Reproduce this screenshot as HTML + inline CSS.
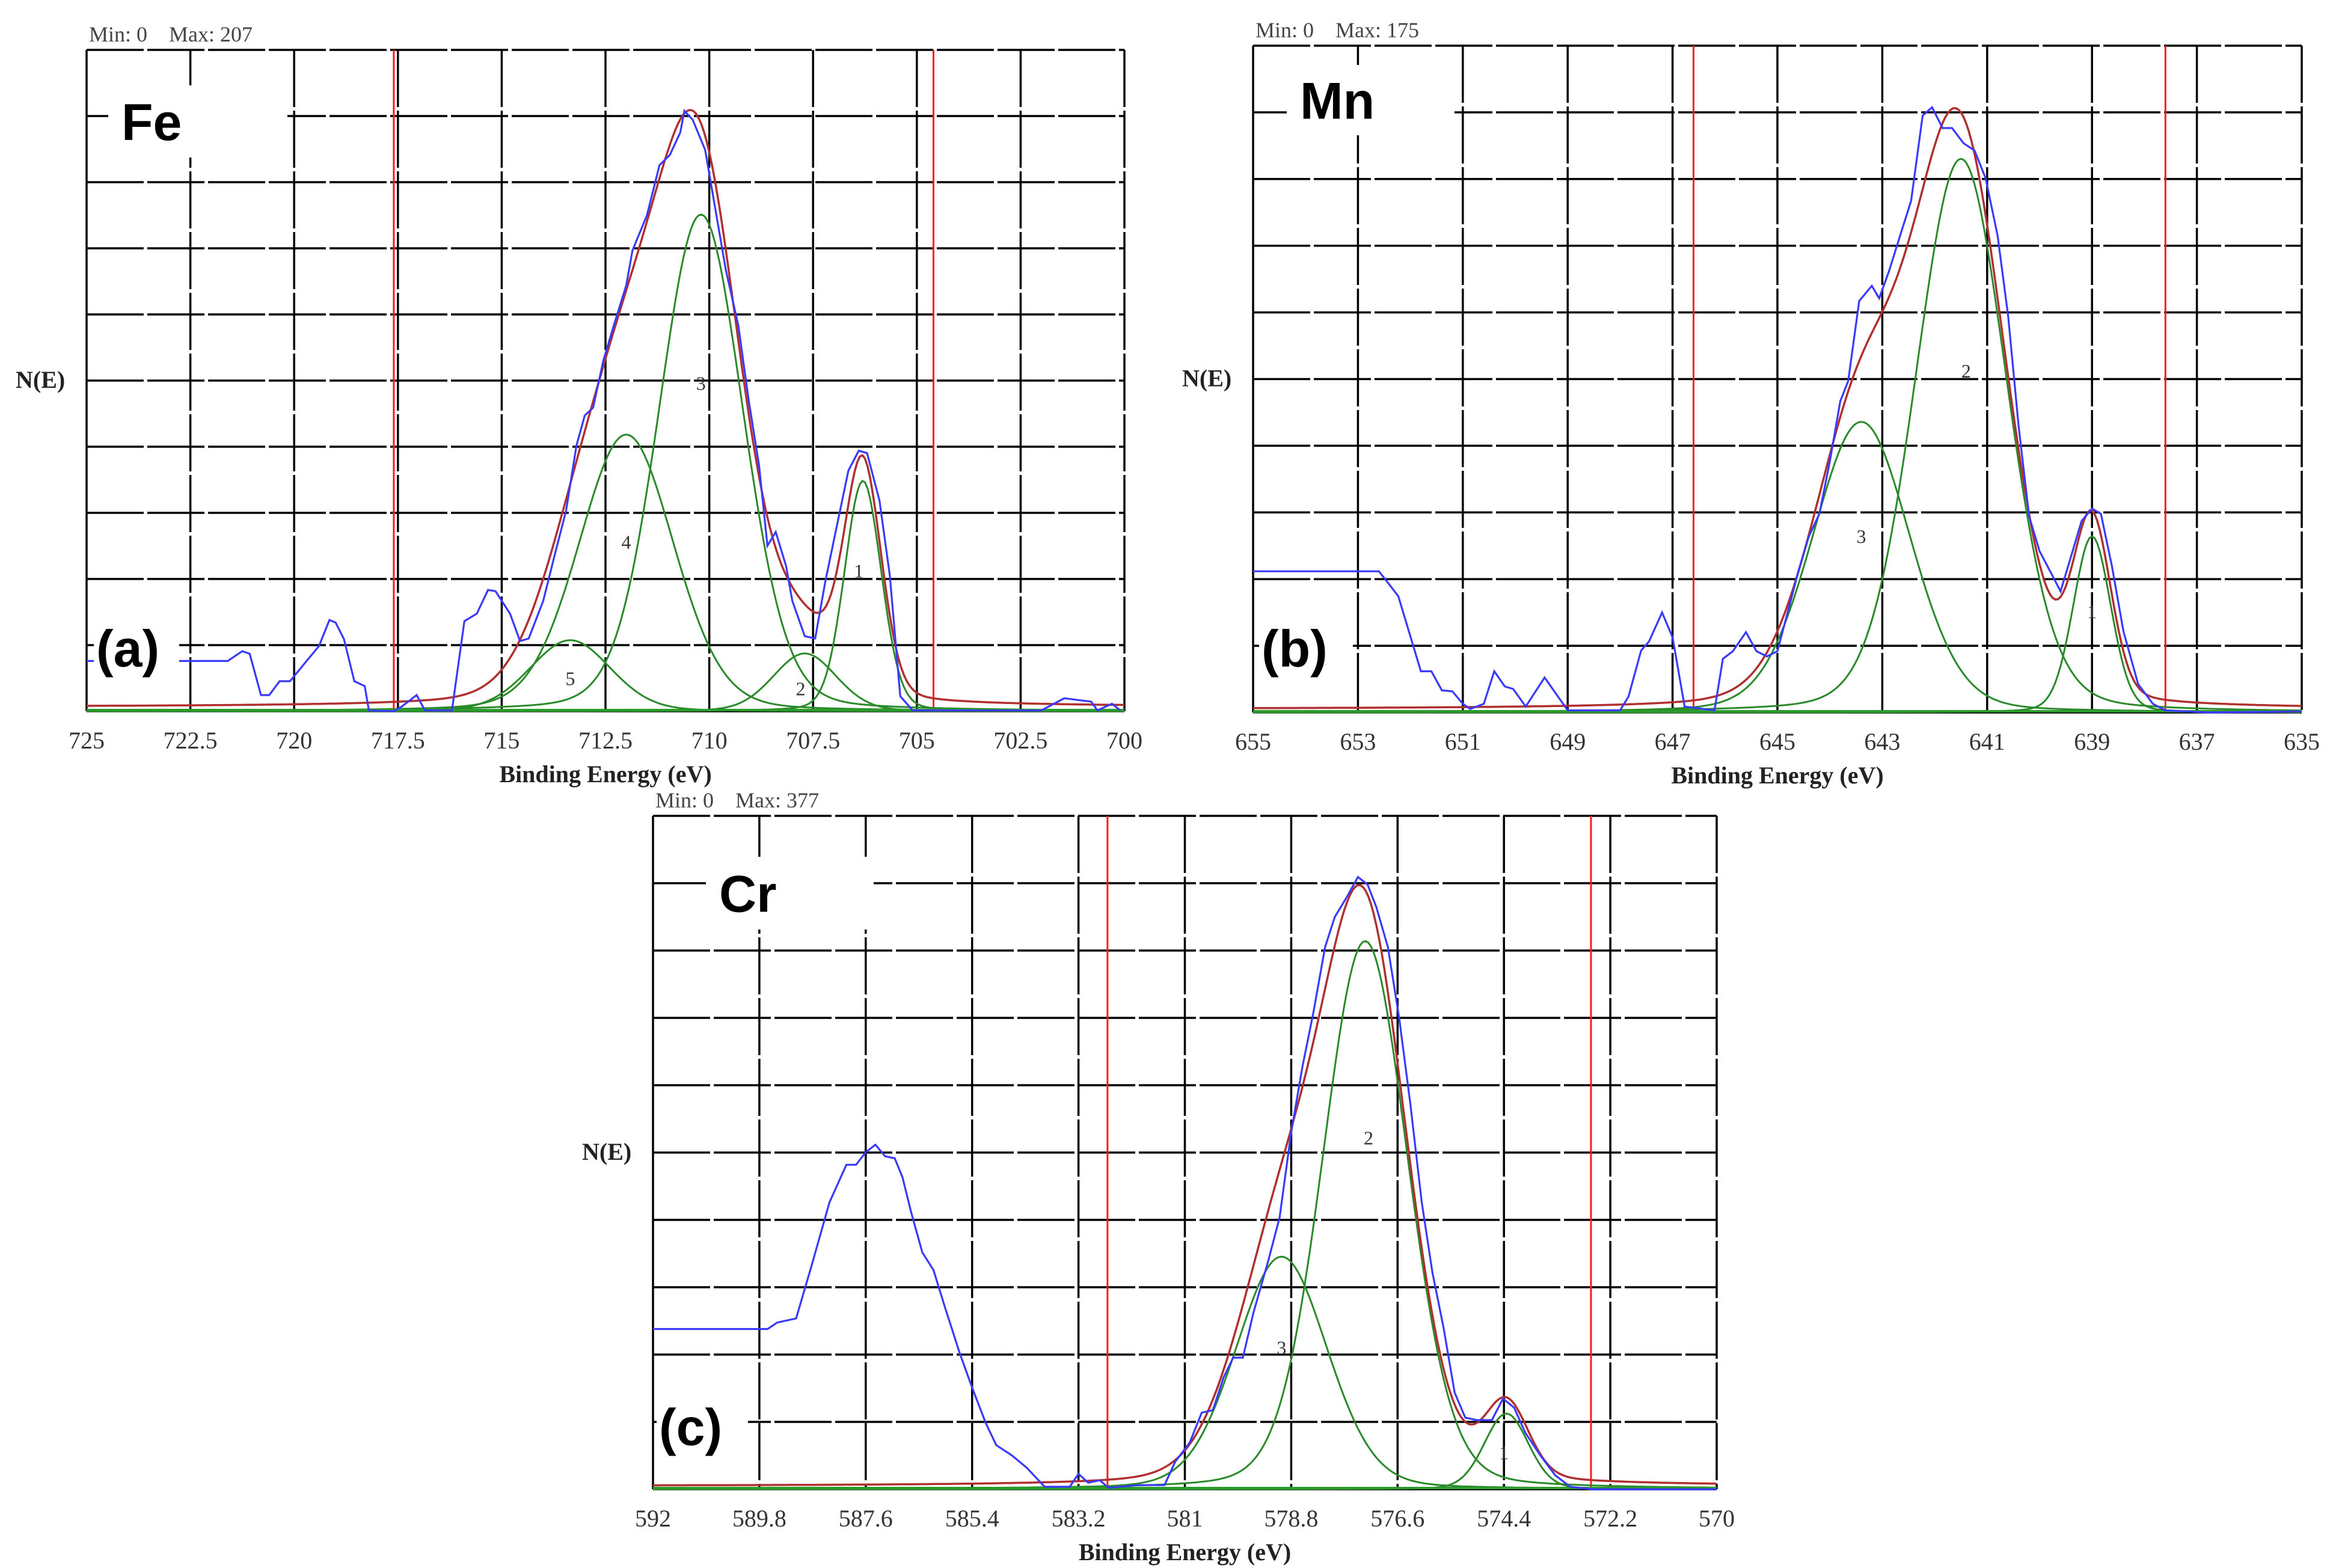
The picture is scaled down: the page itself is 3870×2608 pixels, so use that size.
<!DOCTYPE html>
<html><head><meta charset="utf-8"><title>XPS spectra Fe Mn Cr</title>
<style>
html,body{margin:0;padding:0;background:#fff;}
svg{display:block;}
.tick{font-family:"Liberation Serif",serif;font-size:40px;fill:#333;}
.axt{font-family:"Liberation Serif",serif;font-size:40px;font-weight:bold;fill:#222;}
.mm{font-family:"Liberation Serif",serif;font-size:36px;fill:#444;}
.el{font-family:"Liberation Sans",sans-serif;font-size:86px;font-weight:bold;fill:#000;}
.num{font-family:"Liberation Serif",serif;font-size:32px;fill:#333;}
</style></head>
<body>
<svg id="fig" width="3870" height="2608" viewBox="0 0 3870 2608" xmlns="http://www.w3.org/2000/svg">
<rect x="0" y="0" width="3870" height="2608" fill="#fff"/>
</svg>
<script>
// ---------- Fe panel data ----------
const feE = [725,721.6,721.25,721.07,720.8,720.6,720.35,720.1,719.7,719.4,719.15,719.0,718.8,718.55,718.3,718.2,717.6,717.4,717.05,716.85,716.2,715.9,715.6,715.33,715.15,714.8,714.56,714.35,714.0,713.7,713.45,713.2,713.0,712.8,712.55,712.3,712.0,711.85,711.5,711.2,710.95,710.7,710.6,710.4,710.1,709.85,709.6,709.3,709.05,708.8,708.6,708.4,708.15,708.0,707.7,707.45,707.2,706.9,706.65,706.4,706.2,705.9,705.65,705.4,705.1,702.0,701.45,700.8,700.65,700.3,700.1];
const feCounts = [17.4,17.4,20.8,19.9,5.6,5.6,10.4,10.4,17.4,22.6,31.6,30.7,25.0,10.4,8.7,0.3,0,1.7,5.6,0.3,0.3,31.2,33.8,42.0,41.6,33.8,24.3,25.2,38.2,55.5,69.4,92.0,102.4,105.1,121.5,133.6,147.5,159.6,171.8,189.1,192.6,200.4,207.9,204.8,194.4,173.5,152.7,133.6,107.6,85.1,57.3,62.1,50.3,38.2,26.0,25.2,45.3,66.0,83.3,90.2,89.4,72.9,46.9,5.2,0.3,0.3,4.5,3.3,0.3,2.6,0.3];
const feCompCenter = [706.3,707.7,710.2,712.0,713.35];
const feCompHeight = [79.8,20.0,172,95.8,24.6];
const feCompFwhm = [1.05,1.8,2.4,2.7,2.3];
const feCompLabel = ['1','2','3','4','5'];
const feLabelE = [706.4,707.8,710.2,712.0,713.35];
const feLabelY = [48.6,7.8,113.6,58.6,11.3];
const feTicks = ['725','722.5','720','717.5','715','712.5','710','707.5','705','702.5','700'];
const feMarkers = [717.6,704.6];
// ---------- Mn panel data ----------
const mnE = [655,652.6,652.45,652.23,652.0,651.8,651.6,651.4,651.2,651.0,650.86,650.6,650.4,650.2,650.04,649.8,649.44,649.0,648.0,647.84,647.6,647.45,647.2,647.0,646.77,646.2,646.04,645.85,645.6,645.4,645.2,645.0,644.8,644.6,644.4,644.2,644.0,643.8,643.65,643.44,643.2,643.06,642.87,642.66,642.45,642.23,642.05,641.85,641.67,641.45,641.24,641.03,640.8,640.6,640.4,640.2,640.0,639.75,639.6,639.37,639.2,639.0,638.83,638.62,638.4,638.12,637.84,637.6,636.8,635];
const mnCounts = [40.8,40.8,37.9,33.6,22.0,11.9,11.9,6.4,6.1,2.5,1.0,2.5,11.9,7.5,6.8,1.7,10.1,0.6,0.6,4.6,17.9,20.5,28.9,21.7,1.7,0.6,15.5,17.7,23.2,17.7,16.2,17.7,29.2,40.8,50.9,57.4,72.6,90.0,95.8,118.9,123.3,119.7,127.6,137.8,147.9,172.5,174.9,168.9,168.9,164.5,162.4,154.4,137.8,114.6,82.8,56.7,46.6,39.4,35.0,46.6,55.3,58.9,57.4,42.3,23.4,8.2,2.5,0.6,0,0.3];
const mnCompCenter = [639.0,641.5,643.4];
const mnCompHeight = [50.9,160,84];
const mnCompFwhm = [0.85,2.05,2.2];
const mnCompLabel = ['1','2','3'];
const mnLabelE = [639.0,641.4,643.4];
const mnLabelY = [29.2,98.7,50.9];
const mnTicks = ['655','653','651','649','647','645','643','641','639','637','635'];
const mnMarkers = [646.6,637.6];
// ---------- Cr panel data ----------
const crE = [592,589.63,589.43,589.04,588.73,588.35,588.0,587.8,587.6,587.4,587.2,587.0,586.84,586.66,586.43,586.2,585.96,585.66,585.4,585.12,584.9,584.58,584.27,583.9,583.38,583.2,583.0,582.76,582.58,581.96,581.42,581.2,580.9,580.65,580.42,580.2,580.0,579.8,579.58,579.27,579.04,578.8,578.57,578.34,578.1,577.9,577.65,577.42,577.22,577.04,576.8,576.57,576.34,576.1,575.88,575.65,575.42,575.2,574.96,574.65,574.42,574.19,573.96,573.65,573.34,573.03,572.57,570];
const crCounts = [98.5,98.5,102.5,105.0,136.4,176.4,199.5,199.5,207.2,211.8,204.7,203.5,191.8,170.2,145.6,134.8,111.7,84.0,62.5,40.9,27.1,20.9,13.2,1.5,1.5,9.5,4.0,5.5,0.9,2.5,2.5,16.9,28.6,47.1,48.6,68.6,80.9,80.9,108.7,141.0,167.1,219.5,259.5,293.3,333.3,351.8,364.1,376.4,371.8,358.0,333.3,290.3,237.9,176.4,133.3,99.4,59.4,44.0,42.5,42.5,55.7,50.2,34.8,20.9,8.6,1.5,0,0];
const crCompCenter = [574.35,577.27,579.0];
const crCompHeight = [46.5,337,143];
const crCompFwhm = [1.08,2.08,2.23];
const crCompLabel = ['1','2','3'];
const crLabelE = [574.4,577.2,579.0];
const crLabelY = [22.5,216,87];
const crTicks = ['592','589.8','587.6','585.4','583.2','581','578.8','576.6','574.4','572.2','570'];
const crMarkers = [582.6,572.6];

const NS = 'http://www.w3.org/2000/svg';
const svg = document.getElementById('fig');
function mk(tag, attrs, parent){
  const e = document.createElementNS(NS, tag);
  for (const k in attrs) e.setAttribute(k, attrs[k]);
  (parent||svg).appendChild(e);
  return e;
}
function gl(x,c,h,w){
  const d=(x-c)/w;
  return h*(0.85*Math.exp(-4*Math.LN2*d*d)+0.15/(1+4*d*d));
}
function drawPanel(p){
  const g = mk('g',{});
  
  
  const xs = e => p.x0 + (p.eMax - e)/(p.eMax - p.eMin)*(p.x1 - p.x0);
  const ys = v => p.y1 - v/p.yFull*(p.y1 - p.y0);
  for(let i=0;i<=10;i++){
    const y = p.y0 + i*(p.y1-p.y0)/10;
    const l = mk('line',{x1:p.x0,x2:p.x1,y1:y,y2:y,stroke:'#000','stroke-width':3.5,'stroke-dasharray':i===10?'none':'95 6'},g);
    
    
    const x = p.x0 + i*(p.x1-p.x0)/10;
    const v = mk('line',{x1:x,x2:x,y1:p.y0,y2:p.y1,stroke:'#000','stroke-width':3.5,'stroke-dasharray':i===0?'none':'95 6'},g);
    
    
    const t = mk('text',{x:x,y:p.y1+62,'text-anchor':'middle',class:'tick'},g);
    t.textContent = p.ticks[i];
    
    
  }
  p.markers.forEach(m=>{
    const l = mk('line',{x1:xs(m),x2:xs(m),y1:p.y0,y2:p.y1,stroke:'#ff1a1a','stroke-width':3},g);
    
    
  });
  const N=400;
  const env=[];
  for(let j=0;j<=N;j++) env.push(0);
  p.cc.forEach((c,k)=>{
    let d='';
    for(let j=0;j<=N;j++){
      const e = p.eMax - j*(p.eMax-p.eMin)/N;
      const v = gl(e,c,p.ch[k],p.cw[k]);
      env[j]+=v;
      d += (j?'L':'M')+xs(e).toFixed(1)+','+ys(v).toFixed(1);
    }
    const path = mk('path',{d:d,fill:'none',stroke:'#2a8a2a','stroke-width':3},g);
    
    
  });
  let de='';
  for(let j=0;j<=N;j++){
    const e = p.eMax - j*(p.eMax-p.eMin)/N;
    de += (j?'L':'M')+xs(e).toFixed(1)+','+ys(env[j]+p.bg).toFixed(1);
  }
  const envP = mk('path',{d:de,fill:'none',stroke:'#b03030','stroke-width':3.5},g);
  
  
  const base = mk('line',{x1:p.x0,x2:p.x1,y1:p.y1-2,y2:p.y1-2,stroke:'#2a9a2a','stroke-width':4},g);
  
  
  const pts = p.E.map((e,i)=>xs(e).toFixed(1)+','+ys(p.C[i]).toFixed(1)).join(' ');
  const raw = mk('polyline',{points:pts,fill:'none',stroke:'#3a3aff','stroke-width':3.2},g);
  
  
  p.cl.forEach((lab,k)=>{
    const t = mk('text',{x:xs(p.le[k]),y:ys(p.ly[k])+11,'text-anchor':'middle',class:'num'},g);
    t.textContent = lab;
    
    
  });
  const b1 = mk('rect',{x:p.elBox[0],y:p.elBox[1],width:p.elBox[2],height:p.elBox[3],fill:'#fff'},g);
  
  
  const t1 = mk('text',{x:p.elBox[0]+22,y:p.elBox[1]+p.elBox[3]/2+31,class:'el'},g);
  t1.textContent = p.el;
  
  
  const b2 = mk('rect',{x:p.pBox[0],y:p.pBox[1],width:p.pBox[2],height:p.pBox[3],fill:'#fff'},g);
  
  
  const t2 = mk('text',{x:p.pBox[0]+4,y:p.pBox[1]+p.pBox[3]/2+31,class:'el'},g);
  t2.textContent = p.letter;
  
  
  const mm = mk('text',{x:p.x0+4,y:p.y0-14,class:'mm'},g);
  mm.textContent = 'Min: 0\u00a0\u00a0\u00a0\u00a0Max: '+p.max;
  
  
  const yl = mk('text',{x:p.x0-118,y:(p.y0+p.y1)/2+12,class:'axt'},g);
  yl.textContent = 'N(E)';
  
  
  const xl = mk('text',{x:(p.x0+p.x1)/2,y:p.y1+118,'text-anchor':'middle',class:'axt'},g);
  xl.textContent = 'Binding Energy (eV)';
  
  
}
drawPanel({name:'fe',x0:144,x1:1870,y0:83,y1:1183,eMax:725,eMin:700,yFull:229,ticks:feTicks,markers:feMarkers,
  E:feE,C:feCounts,cc:feCompCenter,ch:feCompHeight,cw:feCompFwhm,cl:feCompLabel,le:feLabelE,ly:feLabelY,bg:1.5,
  el:'Fe',elBox:[180,142,298,120],letter:'(a)',pBox:[156,1030,142,95],max:207});
drawPanel({name:'mn',x0:2084,x1:3828,y0:76,y1:1185,eMax:655,eMin:635,yFull:192.7,ticks:mnTicks,markers:mnMarkers,
  E:mnE,C:mnCounts,cc:mnCompCenter,ch:mnCompHeight,cw:mnCompFwhm,cl:mnCompLabel,le:mnLabelE,ly:mnLabelY,bg:1,
  el:'Mn',elBox:[2140,108,279,117],letter:'(b)',pBox:[2094,1030,156,95],max:175});
drawPanel({name:'cr',x0:1086,x1:2855,y0:1357,y1:2477,eMax:592,eMin:570,yFull:414,ticks:crTicks,markers:crMarkers,
  E:crE,C:crCounts,cc:crCompCenter,ch:crCompHeight,cw:crCompFwhm,cl:crCompLabel,le:crLabelE,ly:crLabelY,bg:2,
  el:'Cr',elBox:[1174,1425,279,121],letter:'(c)',pBox:[1092,2325,152,95],max:377});
</script>
</body></html>
